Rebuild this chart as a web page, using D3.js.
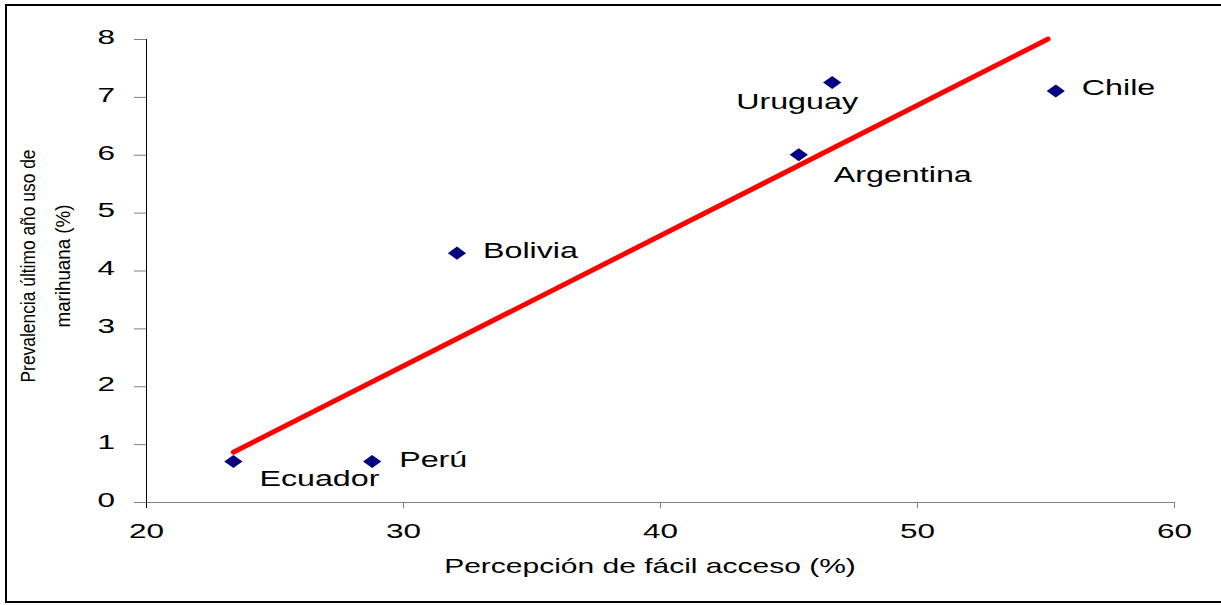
<!DOCTYPE html>
<html lang="es">
<head>
<meta charset="utf-8">
<script src="https://cdn.jsdelivr.net/npm/d3@7"></script>
<style>
    body { margin: 0; background: #fff; }
    text { font-family: 'Liberation Sans', Arial, sans-serif; fill: #000; }
    .x.axis path { stroke: #808080; }
    .y.axis path { stroke: #000; }
    .axis line { stroke: #808080; }
    .trend { fill: none; stroke: #ff0000; stroke-width: 5; stroke-linecap: round; }
    .dot { fill: #000080; }
</style>
</head>
<body>
<div id="chart"></div>
<script>
    // data
    var countries = ["Ecuador", "Perú", "Bolivia", "Argentina", "Uruguay", "Chile"];
    var acceso = [23.4, 28.8, 32.1, 45.4, 46.7, 55.4];        // x: percepción de fácil acceso (%)
    var prevalencia = [0.7, 0.7, 4.3, 6.0, 7.25, 7.1];         // y: prevalencia último año (%)
    var trendX = [23.4, 55.1];
    var trendY = [0.86, 8.0];
    var xTicks = [20, 30, 40, 50, 60];
    var yTicks = [0, 1, 2, 3, 4, 5, 6, 7, 8];

    // where each label sits relative to its point (px)
    var labelOffset = {
        "Ecuador": [26, 25], "Perú": [27, 6], "Bolivia": [26, 5],
        "Argentina": [35, 27], "Uruguay": [-96, 27], "Chile": [26, 4]
    };

    var W = 1221, H = 605;
    var margin = {top: 39, left: 146};
    var width = 1028, height = 463;
    var stretch = 1.5;   // text in the original is drawn wide

    var svg = d3.select("#chart").append("svg")
        .attr("width", W)
        .attr("height", H);

    svg.append("rect")
        .attr("x", 6).attr("y", 5)
        .attr("width", W).attr("height", 597)
        .attr("fill", "#fff")
        .attr("stroke", "#000")
        .attr("stroke-width", 2);

    var g = svg.append("g")
        .attr("transform", "translate(" + margin.left + "," + margin.top + ")");

    var x = d3.scaleLinear().domain([20, 60]).range([0, width]);
    var y = d3.scaleLinear().domain([0, 8]).range([height, 0]);

    // x axis
    var gx = g.append("g")
        .attr("class", "x axis")
        .attr("transform", "translate(0," + height + ")")
        .call(d3.axisBottom(x).tickValues(xTicks).tickSize(6).tickSizeOuter(0));
    gx.select(".domain").attr("d", "M-12,0.5H" + width);
    gx.selectAll("text")
        .attr("y", 0).attr("dy", 0)
        .attr("transform", "translate(0,36) scale(" + stretch + ",1)")
        .style("font-size", "21px");

    // y axis
    var gy = g.append("g")
        .attr("class", "y axis")
        .call(d3.axisLeft(y).tickValues(yTicks).tickSize(12).tickSizeOuter(0));
    gy.select(".domain").attr("d", "M0.5,0V" + (height + 6));
    gy.selectAll("text")
        .attr("x", 0).attr("dy", "0.3em")
        .attr("transform", "translate(-31,-2) scale(" + stretch + ",1)")
        .style("font-size", "21px");

    // trend line
    var line = d3.line()
        .x(function (d) { return x(d[0]); })
        .y(function (d) { return y(d[1]); });

    g.append("path")
        .datum(d3.zip(trendX, trendY))
        .attr("class", "trend")
        .attr("d", line);

    // points
    var pts = countries.map(function (c, i) {
        return {name: c, x: acceso[i], y: prevalencia[i]};
    });

    g.selectAll(".dot")
        .data(pts)
        .enter().append("path")
        .attr("class", "dot")
        .attr("d", d3.symbol().type(d3.symbolSquare).size(85))
        .attr("transform", function (d) {
            return "translate(" + x(d.x) + "," + y(d.y) + ") scale(1.4,1) rotate(45)";
        });

    g.selectAll(".lbl")
        .data(pts)
        .enter().append("text")
        .attr("class", "lbl")
        .style("font-size", "21.5px")
        .attr("transform", function (d) {
            var o = labelOffset[d.name];
            return "translate(" + (x(d.x) + o[0]) + "," + (y(d.y) + o[1]) + ") scale(" + stretch + ",1)";
        })
        .text(function (d) { return d.name; });

    // axis titles
    svg.append("text")
        .attr("text-anchor", "middle")
        .style("font-size", "20px")
        .attr("transform", "translate(650,573) scale(" + stretch + ",1)")
        .text("Percepción de fácil acceso (%)");

    var yt = svg.append("g")
        .attr("transform", "translate(0,266) scale(" + stretch + ",1)");
    yt.append("text")
        .attr("text-anchor", "middle")
        .attr("transform", "translate(" + (35 / stretch) + ",0) rotate(-90)")
        .attr("textLength", 233)
        .attr("lengthAdjust", "spacingAndGlyphs")
        .style("font-size", "13px")
        .text("Prevalencia último año uso de");
    yt.append("text")
        .attr("text-anchor", "middle")
        .attr("transform", "translate(" + (70 / stretch) + ",0) rotate(-90)")
        .attr("textLength", 123)
        .attr("lengthAdjust", "spacingAndGlyphs")
        .style("font-size", "13px")
        .text("marihuana (%)");
</script>
</body>
</html>
